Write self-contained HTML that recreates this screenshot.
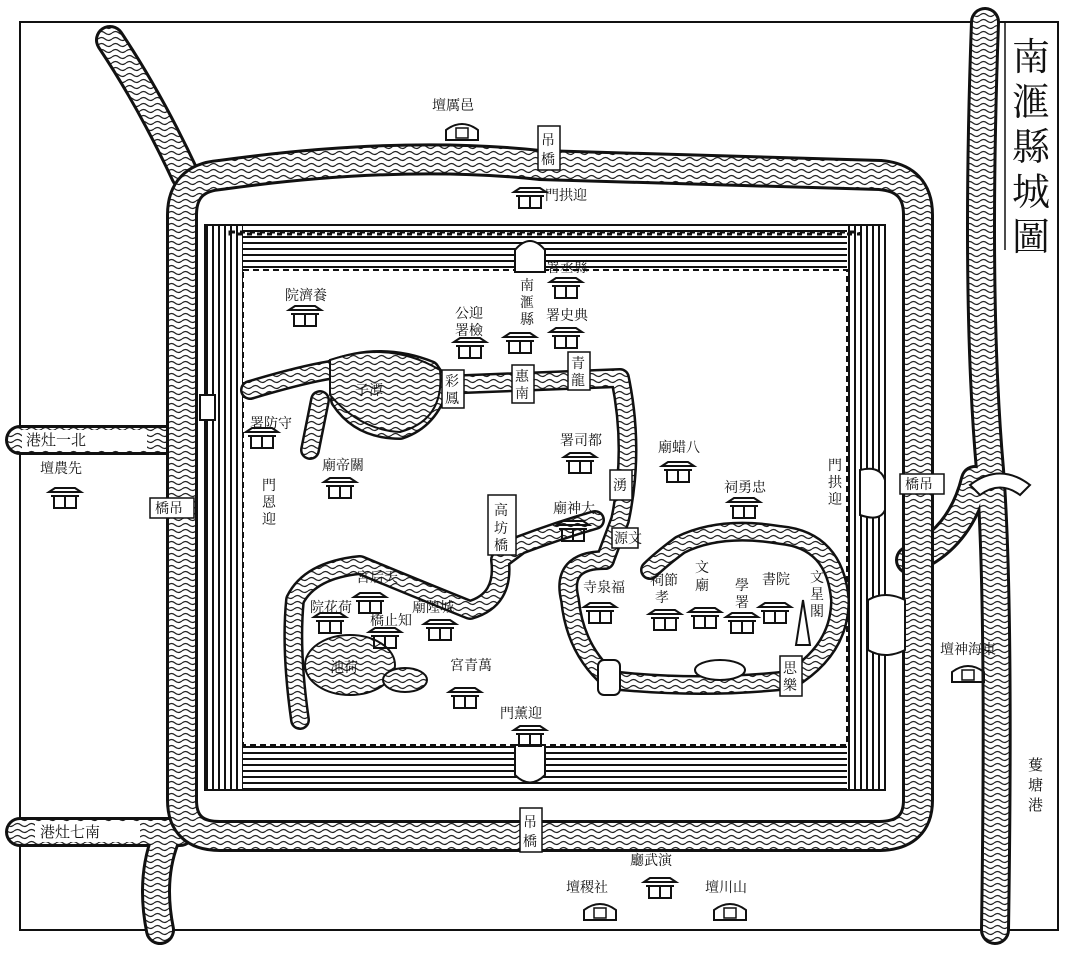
<!DOCTYPE html>
<html><head><meta charset="utf-8"><style>
html,body{margin:0;padding:0;background:#fff;}
svg{display:block;}
text{font-family:"Liberation Serif","Noto Serif CJK SC","Noto Sans CJK SC",serif;fill:#111;}
</style></head><body>
<svg width="1080" height="955" viewBox="0 0 1080 955" xmlns="http://www.w3.org/2000/svg">
<defs>
<pattern id="wv" width="14" height="6" patternUnits="userSpaceOnUse">
<rect width="14" height="6" fill="#fff"/>
<path d="M0 3 Q3.5 0 7 3 T14 3" stroke="#222" stroke-width="1.2" fill="none"/>
</pattern>
<pattern id="hl" width="10" height="6" patternUnits="userSpaceOnUse">
<rect width="10" height="6" fill="#fff"/><line x1="0" y1="3" x2="10" y2="3" stroke="#111" stroke-width="2"/>
</pattern>
<pattern id="vl" width="6" height="10" patternUnits="userSpaceOnUse">
<rect width="6" height="10" fill="#fff"/><line x1="3" y1="0" x2="3" y2="10" stroke="#111" stroke-width="2"/>
</pattern>
<g id="bld">
<path d="M-16 -8 L-10 -12 L10 -12 L16 -8 Z" fill="none" stroke="#111" stroke-width="2"/>
<line x1="-14" y1="-4" x2="14" y2="-4" stroke="#111" stroke-width="2"/>
<rect x="-11" y="-4" width="22" height="12" fill="none" stroke="#111" stroke-width="2"/>
<line x1="0" y1="-4" x2="0" y2="8" stroke="#111" stroke-width="2"/>
</g>
<g id="altar">
<path d="M-16 8 L-16 -2 Q0 -14 16 -2 L16 8 Z" fill="none" stroke="#111" stroke-width="2"/>
<rect x="-6" y="-4" width="12" height="10" fill="none" stroke="#111" stroke-width="1.5"/>
</g>
</defs>
<rect width="1080" height="955" fill="#fff"/>
<!-- frame -->
<rect x="20" y="22" width="1038" height="908" fill="none" stroke="#111" stroke-width="2"/>
<line x1="1005" y1="22" x2="1005" y2="250" stroke="#111" stroke-width="1.5"/>
<text font-size="38" x="1012" y="70">南</text>
<text font-size="38" x="1012" y="115">滙</text>
<text font-size="38" x="1012" y="160">縣</text>
<text font-size="38" x="1012" y="205">城</text>
<text font-size="38" x="1012" y="250">圖</text>

<!-- outer rivers -->
<g fill="none" stroke-linecap="round">
<g stroke="#111" stroke-width="30">
<path d="M110 40 Q150 100 185 175"/>
<path d="M20 440 L180 440"/>
<path d="M20 832 L180 832"/>
<path d="M985 22 Q975 300 990 470 Q1000 600 995 930"/>
<path d="M910 560 Q960 540 975 480"/>
<path d="M165 840 Q150 880 160 930"/>
</g>
<g stroke="url(#wv)" stroke-width="24">
<path d="M110 40 Q150 100 185 175"/>
<path d="M20 440 L180 440"/>
<path d="M20 832 L180 832"/>
<path d="M985 22 Q975 300 990 470 Q1000 600 995 930"/>
<path d="M910 560 Q960 540 975 480"/>
<path d="M165 840 Q150 880 160 930"/>
</g>
<!-- moat -->
<path d="M220 175 Q400 150 540 165 Q700 170 880 175 Q918 178 918 215 L918 800 Q918 835 880 836 L220 836 Q182 836 182 800 L182 215 Q182 178 220 175 Z" stroke="#111" stroke-width="32"/>
<path d="M220 175 Q400 150 540 165 Q700 170 880 175 Q918 178 918 215 L918 800 Q918 835 880 836 L220 836 Q182 836 182 800 L182 215 Q182 178 220 175 Z" stroke="url(#wv)" stroke-width="26"/>
</g>

<!-- wall -->
<rect x="205" y="225" width="680" height="45" fill="url(#hl)"/>
<rect x="205" y="745" width="680" height="45" fill="url(#hl)"/>
<rect x="205" y="225" width="38" height="565" fill="url(#vl)"/>
<rect x="847" y="225" width="38" height="565" fill="url(#vl)"/>
<rect x="205" y="225" width="680" height="565" fill="none" stroke="#111" stroke-width="2"/>
<rect x="243" y="270" width="604" height="475" fill="#fff" stroke="#111" stroke-width="2" stroke-dasharray="6 4"/>
<rect x="230" y="232" width="630" height="2" fill="none" stroke="#111" stroke-width="3" stroke-dasharray="5 5"/>
<!-- gates -->
<path d="M515 272 L515 250 Q530 232 545 250 L545 272 Z" fill="#fff" stroke="#111" stroke-width="2"/>
<path d="M515 745 L515 775 Q530 790 545 775 L545 745 Z" fill="#fff" stroke="#111" stroke-width="2"/>
<path d="M200 395 L215 395 L215 420 L200 420 Z" fill="#fff" stroke="#111" stroke-width="2"/>
<path d="M860 470 Q880 465 885 480 L885 510 Q880 522 860 515 Z" fill="#fff" stroke="#111" stroke-width="2"/>
<path d="M868 600 L868 650 Q885 660 905 650 L905 600 Q885 590 868 600 Z" fill="#fff" stroke="#111" stroke-width="2"/>
<path d="M970 485 Q1000 462 1030 485 L1020 495 Q1000 480 980 495 Z" fill="#fff" stroke="#111" stroke-width="2"/>

<!-- inner waters -->
<g fill="none" stroke-linejoin="round" stroke-linecap="round">
<g stroke="#111" stroke-width="20">
<path d="M250 390 Q300 375 330 370 Q380 350 430 370 L440 385 L620 378 Q635 450 620 520 L605 560"/>
<path d="M440 385 Q430 420 400 430 Q360 430 340 400"/>
<path d="M320 400 L310 450"/>
<path d="M595 520 Q560 530 520 545 L500 560 Q505 600 470 610 Q420 590 360 565 Q310 570 295 600 Q290 650 300 720"/>
<path d="M605 560 Q560 560 570 600 Q575 650 610 680 Q700 690 790 680 Q840 650 840 600 Q835 540 780 535 Q720 525 680 545 Q660 560 650 570"/>
</g>
<g stroke="url(#wv)" stroke-width="15">
<path d="M250 390 Q300 375 330 370 Q380 350 430 370 L440 385 L620 378 Q635 450 620 520 L605 560"/>
<path d="M440 385 Q430 420 400 430 Q360 430 340 400"/>
<path d="M320 400 L310 450"/>
<path d="M595 520 Q560 530 520 545 L500 560 Q505 600 470 610 Q420 590 360 565 Q310 570 295 600 Q290 650 300 720"/>
<path d="M605 560 Q560 560 570 600 Q575 650 610 680 Q700 690 790 680 Q840 650 840 600 Q835 540 780 535 Q720 525 680 545 Q660 560 650 570"/>
</g>
</g>
<path d="M330 360 Q390 340 440 370 Q445 420 400 432 Q360 430 330 395 Z" fill="url(#wv)" stroke="#111" stroke-width="2"/>
<ellipse cx="350" cy="665" rx="45" ry="30" fill="url(#wv)" stroke="#111" stroke-width="2"/>
<ellipse cx="405" cy="680" rx="22" ry="12" fill="url(#wv)" stroke="#111" stroke-width="2"/>
<ellipse cx="720" cy="670" rx="25" ry="10" fill="#fff" stroke="#111" stroke-width="2"/>
<rect x="598" y="660" width="22" height="35" rx="6" fill="#fff" stroke="#111" stroke-width="2"/>

<!-- labels with boxes (bridges) -->
<g font-size="14">
<rect x="538" y="126" width="22" height="44" fill="#fff" stroke="#111" stroke-width="1.5"/><text x="541" y="145">吊</text><text x="541" y="164">橋</text>
<rect x="520" y="808" width="22" height="44" fill="#fff" stroke="#111" stroke-width="1.5"/><text x="523" y="827">吊</text><text x="523" y="846">橋</text>
<rect x="150" y="498" width="44" height="20" fill="#fff" stroke="#111" stroke-width="1.5"/><text x="155" y="513">橋吊</text>
<rect x="900" y="474" width="44" height="20" fill="#fff" stroke="#111" stroke-width="1.5"/><text x="905" y="489">橋吊</text>
<rect x="568" y="352" width="22" height="38" fill="#fff" stroke="#111" stroke-width="1.5"/><text x="571" y="368">青</text><text x="571" y="385">龍</text>
<rect x="512" y="365" width="22" height="38" fill="#fff" stroke="#111" stroke-width="1.5"/><text x="515" y="381">惠</text><text x="515" y="398">南</text>
<rect x="442" y="370" width="22" height="38" fill="#fff" stroke="#111" stroke-width="1.5"/><text x="445" y="386">彩</text><text x="445" y="403">鳳</text>
<rect x="610" y="470" width="22" height="30" fill="#fff" stroke="#111" stroke-width="1.5"/><text x="613" y="490">湧</text>
<rect x="612" y="528" width="26" height="20" fill="#fff" stroke="#111" stroke-width="1.5"/><text x="614" y="543">源文</text>
<rect x="780" y="656" width="22" height="40" fill="#fff" stroke="#111" stroke-width="1.5"/><text x="783" y="673">思</text><text x="783" y="690">樂</text>
<rect x="488" y="495" width="28" height="60" fill="#fff" stroke="#111" stroke-width="1.5"/><text x="494" y="515">高</text><text x="494" y="533">坊</text><text x="494" y="550">橋</text>
</g>

<!-- river names -->
<g font-size="15">
<rect x="22" y="430" width="125" height="20" fill="#fff"/>
<text x="26" y="445">港灶一北</text>
<rect x="35" y="822" width="105" height="20" fill="#fff"/>
<text x="40" y="837">港灶七南</text>
<rect x="1022" y="750" width="30" height="80" fill="#fff"/>
<text x="1028" y="770">蒦</text><text x="1028" y="790">塘</text><text x="1028" y="810">港</text>
</g>

<!-- buildings -->
<g font-size="14">
<use href="#altar" x="462" y="132"/><text x="432" y="110">壇厲邑</text>
<use href="#bld" x="530" y="200"/><text x="545" y="200">門拱迎</text>
<use href="#bld" x="305" y="318"/><text x="285" y="300">院濟養</text>
<use href="#bld" x="470" y="350"/><text x="455" y="318">公迎</text><text x="455" y="335">署檢</text>
<use href="#bld" x="520" y="345"/><text x="520" y="290">南</text><text x="520" y="307">滙</text><text x="520" y="324">縣</text>
<use href="#bld" x="566" y="290"/><text x="546" y="272">署丞縣</text>
<use href="#bld" x="566" y="340"/><text x="546" y="320">署史典</text>
<use href="#bld" x="262" y="440"/><text x="250" y="428">署防守</text>
<use href="#bld" x="340" y="490"/><text x="322" y="470">廟帝關</text>
<use href="#bld" x="580" y="465"/><text x="560" y="445">署司都</text>
<use href="#bld" x="678" y="474"/><text x="658" y="452">廟蜡八</text>
<use href="#bld" x="744" y="510"/><text x="724" y="492">祠勇忠</text>
<use href="#bld" x="573" y="533"/><text x="553" y="513">廟神大</text>
<use href="#bld" x="600" y="615"/><text x="583" y="592">寺泉福</text>
<use href="#bld" x="665" y="622"/><text x="650" y="585">祠節</text><text x="655" y="602">孝</text>
<use href="#bld" x="705" y="620"/><text x="695" y="572">文</text><text x="695" y="590">廟</text>
<use href="#bld" x="742" y="625"/><text x="735" y="590">學</text><text x="735" y="607">署</text>
<use href="#bld" x="775" y="615"/><text x="762" y="584">書院</text>
<text x="810" y="582">文</text><text x="810" y="599">星</text><text x="810" y="616">閣</text>
<path d="M796 645 L803 600 L810 645 Z" fill="none" stroke="#111" stroke-width="2"/>
<use href="#bld" x="370" y="605"/><text x="356" y="582">宮后天</text>
<use href="#bld" x="330" y="625"/><text x="310" y="612">院花荷</text>
<use href="#bld" x="385" y="640"/><text x="370" y="625">橋止知</text>
<use href="#bld" x="440" y="632"/><text x="412" y="612">廟隍城</text>
<text x="330" y="672">池荷</text>
<use href="#bld" x="465" y="700"/><text x="450" y="670">宮青萬</text>
<use href="#bld" x="530" y="738"/><text x="500" y="718">門薰迎</text>
<use href="#bld" x="65" y="500"/><text x="40" y="473">壇農先</text>
<use href="#bld" x="660" y="890"/><text x="630" y="865">廳武演</text>
<use href="#altar" x="600" y="912"/><text x="566" y="892">壇稷社</text>
<use href="#altar" x="730" y="912"/><text x="705" y="892">壇川山</text>
<use href="#altar" x="968" y="674"/><text x="940" y="654">壇神海東</text>
<text x="828" y="470">門</text><text x="828" y="487">拱</text><text x="828" y="504">迎</text>
<text x="262" y="490">門</text><text x="262" y="507">恩</text><text x="262" y="524">迎</text>
<text x="355" y="395">子潭</text>
</g>
</svg>
</body></html>
